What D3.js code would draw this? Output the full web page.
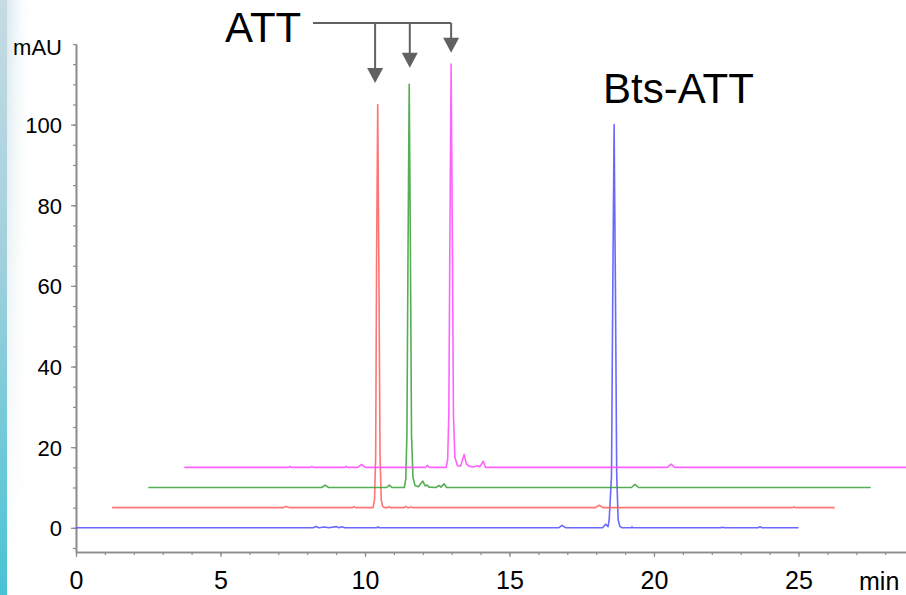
<!DOCTYPE html>
<html>
<head>
<meta charset="utf-8">
<script src="https://cdn.jsdelivr.net/npm/d3@7"></script>
<style>
  html, body { margin: 0; padding: 0; background: #ffffff; }
  svg { display: block; }
  text { font-family: Arial, "Liberation Sans", Helvetica, sans-serif; fill: #000; }
</style>
</head>
<body>
<script>
// ---------------- DATA ----------------
// Traces: [time (min), absorbance (mAU)], real run time
const traceNames = ["Bts-ATT", "ATT 1", "ATT 2", "ATT 3"];
const timeOffsets = [0, 1.25, 2.5, 3.75];     // overlay shift (min)
const valueOffsets = [0, 5, 10, 15];          // overlay shift (mAU)

const traceBlue = [
  [0,0],[8.2,0],[8.3,0.3],[8.4,0],[8.6,0.2],[8.75,0],[9.0,0.3],[9.1,0],[9.2,0.25],[9.3,0],
  [10.4,0],[10.45,0.2],[10.5,0],[16.7,0],[16.82,0.6],[16.95,0],[18.22,0],[18.33,0.9],[18.41,0.3],
  [18.45,2],[18.53,13],[18.575,60],[18.62,100],[18.665,60],[18.71,13],[18.76,2],[18.82,0.3],[18.9,0],
  [19.2,0],[19.24,0.2],[19.28,0],[22.3,0],[22.37,0.15],[22.44,0],[23.6,0],[23.67,0.25],[23.74,0],[25,0]
];
const traceRed = [
  [0,0],[5.9,0],[6.02,0.3],[6.15,0],[8.3,0],[8.37,0.2],[8.44,0],
  [9.03,0],[9.08,2],[9.12,13],[9.15,60],[9.19,100],[9.23,60],[9.27,13],[9.31,2],[9.36,0.3],[9.42,0],
  [9.52,0],[9.58,0.2],[9.64,0],[10.1,0],[10.16,0.3],[10.22,0],[10.3,0],[10.35,0.2],[10.4,0],
  [16.72,0],[16.85,0.6],[16.98,0],[23.52,0],[23.59,0.15],[23.66,0],[25,0]
];
const traceGreen = [
  [0,0],[6.0,0],[6.12,0.6],[6.24,0],[8.25,0],[8.34,0.6],[8.43,0],
  [8.86,0],[8.91,2],[8.95,13],[8.99,60],[9.03,100],[9.07,60],[9.11,13],[9.16,2.5],[9.23,0.5],
  [9.35,0.2],[9.5,1.6],[9.58,0.4],[9.65,0.6],[9.72,0.1],[9.95,0],[10.06,0.5],[10.13,0.1],[10.24,0.9],[10.32,0],
  [16.72,0],[16.84,0.75],[16.96,0],[25,0]
];
const traceMagenta = [
  [0,0],[3.6,0],[3.65,0.2],[3.7,0],[4.36,0],[4.41,0.2],[4.46,0],[5.54,0],[5.59,0.25],[5.64,0],
  [6.0,0],[6.13,0.7],[6.26,0],[8.35,0],[8.41,0.5],[8.47,0],
  [9.06,0],[9.11,2],[9.15,13],[9.19,60],[9.23,100],[9.27,60],[9.31,13],[9.36,2.5],[9.45,0.4],
  [9.56,0.3],[9.68,3.2],[9.76,0.8],[9.85,0.3],[10.0,0.1],[10.15,0.4],[10.22,0.1],[10.34,1.5],[10.42,0],
  [16.72,0],[16.84,0.8],[16.96,0],[25,0]
];
const traces = [traceBlue, traceRed, traceGreen, traceMagenta];

// Axis ticks
const xTickMinor = d3.range(0, 29, 1);
const xTickLabels = [0, 5, 10, 15, 20, 25];
const yTickMinor = d3.range(-5, 121, 5);
const yTickLabels = [0, 20, 40, 60, 80, 100];
const xUnit = "min";
const yUnit = "mAU";

// Annotations
const attLabel = "ATT";
const attArrowTimes = [10.35, 11.55, 12.98];     // chart time of the arrows
const attArrowTips = [110.3, 114.1, 117.8];      // chart value of the arrow tips
const btsLabel = "Bts-ATT";

// ---------------- STYLE ----------------
const W = 906, H = 595;
const colors = ["#4f4fff", "#ff5c5c", "#36a036", "#ff48ff"];
const axisColor = "#8c8c8c";
const arrowColor = "#616161";

const svg = d3.select("body").append("svg").attr("width", W).attr("height", H);

// decorative left strip
const defs = svg.append("defs");
const g1 = defs.append("linearGradient").attr("id", "strip").attr("x1", 0).attr("y1", 0).attr("x2", 0).attr("y2", 1);
g1.append("stop").attr("offset", "0%").attr("stop-color", "#c7dbe3");
g1.append("stop").attr("offset", "45%").attr("stop-color", "#9fd0dc");
g1.append("stop").attr("offset", "100%").attr("stop-color", "#48c3d4");
const g2 = defs.append("linearGradient").attr("id", "fade").attr("x1", 0).attr("y1", 0).attr("x2", 1).attr("y2", 0);
g2.append("stop").attr("offset", "0%").attr("stop-color", "#d6e7ed").attr("stop-opacity", 0.9);
g2.append("stop").attr("offset", "100%").attr("stop-color", "#ffffff").attr("stop-opacity", 0);
const g3 = defs.append("linearGradient").attr("id", "vfade").attr("x1", 0).attr("y1", 0).attr("x2", 0).attr("y2", 1);
g3.append("stop").attr("offset", "0%").attr("stop-color", "#fff").attr("stop-opacity", 1);
g3.append("stop").attr("offset", "100%").attr("stop-color", "#fff").attr("stop-opacity", 0);
const mask = defs.append("mask").attr("id", "vmask");
mask.append("rect").attr("x", 0).attr("y", 0).attr("width", 40).attr("height", H).attr("fill", "url(#vfade)");
svg.append("rect").attr("x", 7).attr("y", 0).attr("width", 26).attr("height", H)
  .attr("fill", "url(#fade)").attr("mask", "url(#vmask)");
svg.append("rect").attr("x", 0).attr("y", 0).attr("width", 7).attr("height", H).attr("fill", "url(#strip)");

// scales
const x = d3.scaleLinear().domain([0, 28.72]).range([76, 906]);
const y = d3.scaleLinear().domain([-6, 120]).range([552, 44]);

// y axis
svg.append("g").attr("transform", `translate(${x(0)},0)`)
  .call(d3.axisLeft(y).tickValues(yTickMinor).tickSize(3).tickSizeOuter(0).tickFormat(""));
const yMajor = svg.append("g").attr("transform", `translate(${x(0)},0)`)
  .call(d3.axisLeft(y).tickValues(yTickLabels).tickSize(5).tickSizeOuter(0).tickPadding(9).tickFormat(d3.format("d")));
yMajor.selectAll("text").style("font-size", "22px").attr("dy", "0.36em");

// x axis
svg.append("g").attr("transform", `translate(0,${y(-6)})`)
  .call(d3.axisBottom(x).tickValues(xTickMinor).tickSize(3).tickSizeOuter(0).tickFormat(""));
const xMajor = svg.append("g").attr("transform", `translate(0,${y(-6)})`)
  .call(d3.axisBottom(x).tickValues(xTickLabels).tickSize(5).tickSizeOuter(0).tickPadding(14).tickFormat(d3.format("d")));
xMajor.selectAll("text").style("font-size", "25px");

svg.selectAll(".domain").attr("stroke", axisColor).attr("stroke-width", 1.6);
svg.selectAll(".tick line").attr("stroke", axisColor).attr("stroke-width", 1.2);

svg.append("text").attr("x", 62).attr("y", 55).attr("text-anchor", "end")
  .style("font-size", "22px").text(yUnit);
svg.append("text").attr("x", 859).attr("y", 590)
  .style("font-size", "25px").text(xUnit);

// traces
const clip = defs.append("clipPath").attr("id", "plotclip");
clip.append("rect").attr("x", x(0)).attr("y", 0).attr("width", x(28.72) - x(0)).attr("height", y(-6));

const line = d3.line().x(d => x(d[0])).y(d => y(d[1]));
const plot = svg.append("g").attr("clip-path", "url(#plotclip)");
traces.forEach((tr, i) => {
  const shifted = tr.map(p => [p[0] + timeOffsets[i], p[1] + valueOffsets[i]]);
  plot.append("path")
    .datum(shifted)
    .attr("d", line)
    .attr("fill", "none")
    .attr("stroke", colors[i])
    .attr("stroke-width", 1.6)
    .attr("stroke-linejoin", "round")
    .attr("opacity", 0.85);
});

// ATT annotation with arrows
const ann = svg.append("g");
const barY = 23;
ann.append("line")
  .attr("x1", 313).attr("x2", x(attArrowTimes[attArrowTimes.length - 1]))
  .attr("y1", barY).attr("y2", barY)
  .attr("stroke", arrowColor).attr("stroke-width", 2);
attArrowTimes.forEach((t, i) => {
  const ax = x(t), tip = y(attArrowTips[i]);
  ann.append("line").attr("x1", ax).attr("x2", ax).attr("y1", barY).attr("y2", tip - 12)
    .attr("stroke", arrowColor).attr("stroke-width", 2);
  ann.append("path")
    .attr("d", `M${ax - 8},${tip - 15} L${ax + 8},${tip - 15} L${ax},${tip} Z`)
    .attr("fill", arrowColor);
});
ann.append("text").attr("x", 225).attr("y", 42).style("font-size", "42px").text(attLabel);
svg.append("text").attr("x", 603).attr("y", 103).style("font-size", "42px").text(btsLabel);
</script>
</body>
</html>
